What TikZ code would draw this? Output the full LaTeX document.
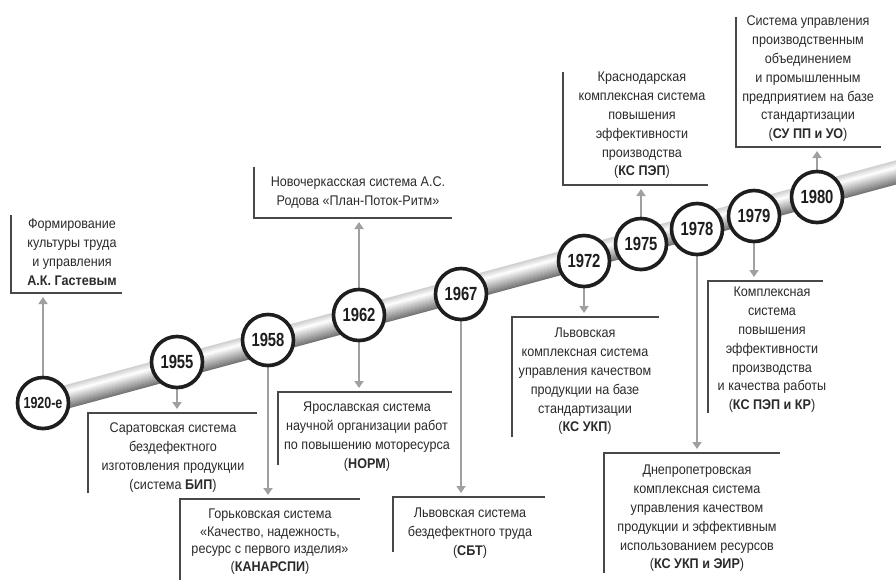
\documentclass[tikz,border=0pt]{standalone}
\usepackage{fontspec}
\setmainfont{Liberation Sans}[FakeStretch=0.9]
\newfontfamily\yearfont{Liberation Sans}[FakeStretch=0.78]
\usetikzlibrary{calc,arrows.meta,shadows}
\definecolor{frameC}{HTML}{484848}
\definecolor{txtC}{HTML}{2A2A2A}
\definecolor{yrC}{HTML}{1E1E1E}
\definecolor{arrC}{HTML}{A0A0A0}
\begin{document}
\begin{tikzpicture}[x=1pt,y=-1pt,
  frm/.style={rectangle,inner sep=0pt,outer sep=0pt,anchor=north west},
  brk/.style={draw=frameC,line width=2.3pt,line join=miter},
  txt/.style={align=center,text=txtC,inner sep=0pt,anchor=north,
    font=\fontsize{14}{18.8}\selectfont,execute at begin node=\strut},
  yr/.style={circle,draw=yrC,line width=3.6pt,fill=white,minimum size=51pt,inner sep=0pt,
    font=\yearfont\bfseries\fontsize{19}{21}\selectfont,text=yrC,
    drop shadow={shadow xshift=1pt,shadow yshift=-2pt,opacity=0.3,fill=black!60}},
  arr/.style={draw=arrC,line width=2.6pt,-{Triangle[length=7pt,width=9pt]},shorten >=4pt}]
\useasboundingbox (0,0) rectangle (896,579);
% band
\coordinate (bA) at (40,404);
\coordinate (bB) at (905,170);
\foreach \k in {-11,...,11}{
  \pgfmathsetmacro\p{\k>5 ? (\k-5)*3 : (5-\k)*3.4}
  \draw[line width=1.4pt,black!\p] ($(bA)!\k pt!90:(bB)$) -- ($(bB)!\k pt!-90:(bA)$);
}
% frames
\node[frm,minimum width=111pt,minimum height=78pt] (f1920) at (11,215) {};
\node[frm,minimum width=169pt,minimum height=80pt] (f1955) at (88,413) {};
\node[frm,minimum width=180pt,minimum height=84pt] (f1958) at (180,499) {};
\node[frm,minimum width=198pt,minimum height=51pt] (f1962a) at (254,167) {};
\node[frm,minimum width=174pt,minimum height=73pt] (f1962b) at (278,392) {};
\node[frm,minimum width=152pt,minimum height=55pt] (f1967) at (393,497) {};
\node[frm,minimum width=147pt,minimum height=120pt] (f1972) at (512,317) {};
\node[frm,minimum width=145pt,minimum height=113pt] (f1975) at (563,72) {};
\node[frm,minimum width=145pt,minimum height=130pt] (f1980) at (736,17) {};
\node[frm,minimum width=115pt,minimum height=132pt] (f1979) at (708,281) {};
\node[frm,minimum width=176pt,minimum height=120pt] (f1978) at (604,453) {};
\foreach \f in {f1920,f1962a,f1975,f1980}
  \draw[brk] (\f.north west) -- (\f.south west) -- (\f.south east);
\foreach \f in {f1955,f1958,f1962b,f1967,f1972,f1979,f1978}
  \draw[brk] (\f.south west) -- (\f.north west) -- (\f.north east);
% texts
\node[txt] (t1920) at (72,219) {Формирование\\культуры труда\\и управления\\\textbf{А.К. Гастевым}};
\node[txt] (t1955) at (173,423) {Саратовская система\\бездефектного\\изготовления продукции\\(система \textbf{БИП})};
\node[txt,font=\fontsize{14}{17.8}\selectfont] (t1958) at (270,508.5) {Горьковская система\\«Качество, надежность,\\ресурс с первого изделия»\\(\textbf{КАНАРСПИ})};
\node[txt] (t1962a) at (358,177) {Новочеркасская система А.С.\\Родова «План-Поток-Ритм»};
\node[txt] (t1962b) at (367,402) {Ярославская система\\научной организации работ\\по повышению моторесурса\\(\textbf{НОРМ})};
\node[txt] (t1967) at (470,508) {Львовская система\\бездефектного труда\\(\textbf{СБТ})};
\node[txt] (t1972) at (585,328) {Львовская\\комплексная система\\управления качеством\\продукции на базе\\стандартизации\\(\textbf{КС УКП})};
\node[txt] (t1975) at (642,72) {Краснодарская\\комплексная система\\повышения\\эффективности\\производства\\(\textbf{КС ПЭП})};
\node[txt] (t1980) at (808,16) {Система управления\\производственным\\объединением\\и промышленным\\предприятием на базе\\стандартизации\\(\textbf{СУ ПП и УО})};
\node[txt] (t1979) at (772,287) {Комплексная\\система\\повышения\\эффективности\\производства\\и качества работы\\(\textbf{КС ПЭП и КР})};
\node[txt] (t1978) at (697,465) {Днепропетровская\\комплексная система\\управления качеством\\продукции и эффективным\\использованием ресурсов\\(\textbf{КС УКП и ЭИР})};
% year circles positions
\coordinate (p1920) at (43,403);
\coordinate (p1955) at (177,362);
\coordinate (p1958) at (268,340);
\coordinate (p1962) at (359,315);
\coordinate (p1967) at (461,294);
\coordinate (p1972) at (584,261);
\coordinate (p1975) at (641,244);
\coordinate (p1978) at (697,229);
\coordinate (p1979) at (754,216);
\coordinate (p1980) at (817,197);
% arrows (drawn from centres, circles cover the start)
\draw[arr] (p1920) -- (p1920 |- f1920.south);
\draw[arr] (p1955) -- (p1955 |- f1955.north);
\draw[arr] (p1958) -- (p1958 |- f1958.north);
\draw[arr] (p1962) -- (p1962 |- f1962a.south);
\draw[arr] (p1962) -- (p1962 |- f1962b.north);
\draw[arr] (p1967) -- (p1967 |- f1967.north);
\draw[arr] (p1972) -- (p1972 |- f1972.north);
\draw[arr] (p1975) -- (p1975 |- f1975.south);
\draw[arr] (p1978) -- (p1978 |- f1978.north);
\draw[arr] (p1979) -- (p1979 |- f1979.north);
\draw[arr] (p1980) -- (p1980 |- f1980.south);
% circles
\node[yr,font=\yearfont\bfseries\fontsize{16}{18}\selectfont] (c1920) at (p1920) {1920-е};
\node[yr] (c1955) at (p1955) {1955};
\node[yr] (c1958) at (p1958) {1958};
\node[yr] (c1962) at (p1962) {1962};
\node[yr] (c1967) at (p1967) {1967};
\node[yr] (c1972) at (p1972) {1972};
\node[yr] (c1975) at (p1975) {1975};
\node[yr] (c1978) at (p1978) {1978};
\node[yr] (c1979) at (p1979) {1979};
\node[yr] (c1980) at (p1980) {1980};
\end{tikzpicture}
\end{document}
